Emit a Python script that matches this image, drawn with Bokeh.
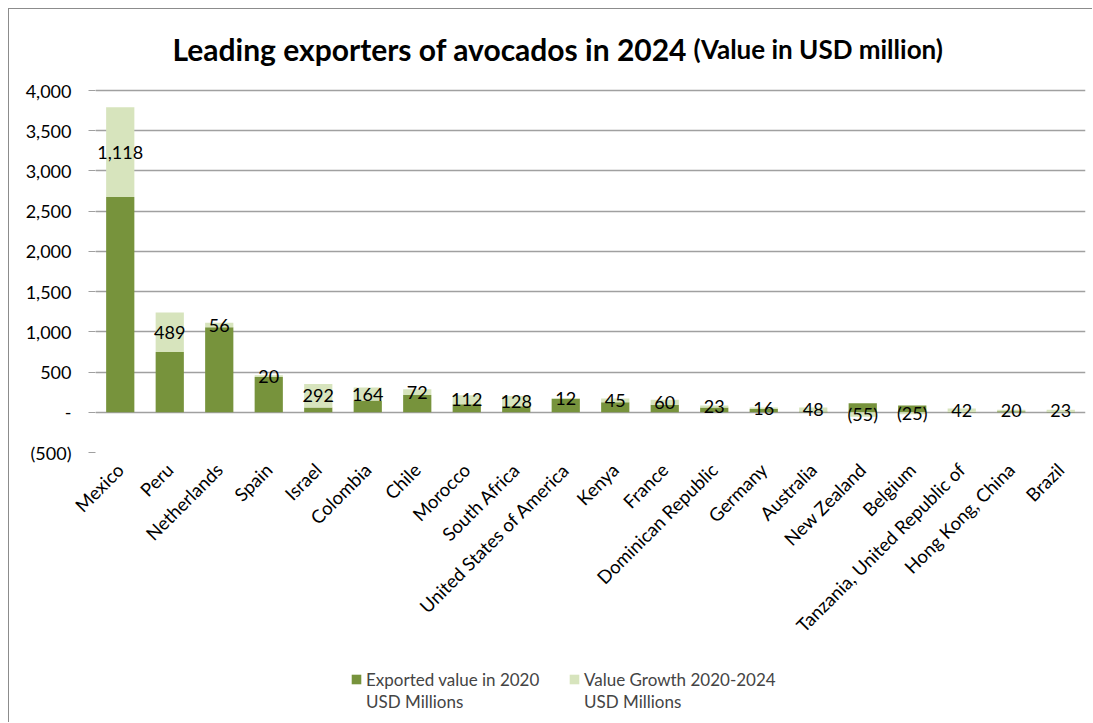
import numpy as np
from bokeh.plotting import figure
from bokeh.layouts import column
from bokeh.models import (ColumnDataSource, FixedTicker, CustomJSTickFormatter, Label,
                          Legend, LegendItem)
from bokeh.core.properties import value
from bokeh.embed import file_html
from bokeh.resources import INLINE
from math import pi

countries = ["Mexico", "Peru", "Netherlands", "Spain", "Israel", "Colombia", "Chile",
             "Morocco", "South Africa", "United States of America", "Kenya", "France",
             "Dominican Republic", "Germany", "Australia", "New Zealand", "Belgium",
             "Tanzania, United Republic of", "Hong Kong, China", "Brazil"]
value_2020 = [2675, 750, 1056, 440, 60, 145, 215, 100, 75, 165, 125, 95, 60, 42, 10,
              112, 85, 5, 12, 8]
growth_2020_2024 = [1118, 489, 56, 20, 292, 164, 72, 112, 128, 12, 45, 60, 23, 16, 48,
                    -55, -25, 42, 20, 23]
y_ticks = [-500, 0, 500, 1000, 1500, 2000, 2500, 3000, 3500, 4000]
legend_labels = ["Exported value in 2020", "Value Growth 2020-2024"]
legend_unit = "USD Millions"
title_main = "Leading exporters of avocados in 2024"
title_sub = "(Value in USD million)"

DARK = "#77933C"
LIGHT = "#D7E4BD"
GRID = "#A0A0A0"
BORDER = "#8C8C8C"
FONT = "Lato"

v = np.array(value_2020, dtype=float)
g = np.array(growth_2020_2024, dtype=float)
g_bottom = np.where(g >= 0, v, 0.0)
g_top = g_bottom + g
label_y = g_bottom + g / 2


def fmt(n):
    return "({:,})".format(abs(n)) if n < 0 else "{:,}".format(n)


src = ColumnDataSource(dict(
    country=countries, v2020=v, zero=np.zeros(len(v)),
    g_bottom=g_bottom, g_top=g_top, label_y=label_y,
    label=[fmt(x) for x in growth_2020_2024],
))

# 362 px for the -500..4000 axis plus 70 px of head room (inside the frame) for the title
AXIS_H, HEAD = 362, 70
Y_MIN, Y_AXIS_MAX = -500, 4000
y_end = Y_AXIS_MAX + HEAD * (Y_AXIS_MAX - Y_MIN) / AXIS_H

p = figure(x_range=countries, y_range=(Y_MIN, y_end), width=1084, height=651,
           output_backend="svg", toolbar_location=None,
           min_border_left=86, min_border_right=8, min_border_top=11,
           min_border_bottom=651 - 11 - AXIS_H - HEAD)
p.outline_line_color = None
p.background_fill_color = "white"
p.border_fill_color = "white"
p.styles = {"margin-left": "8px", "margin-top": "8px",
            "border-left": f"1px solid {BORDER}", "border-top": f"1px solid {BORDER}"}

p.vbar(x="country", top="v2020", bottom="zero", width=0.57, source=src,
       fill_color=DARK, line_color=None)
p.vbar(x="country", top="g_top", bottom="g_bottom", width=0.57, source=src,
       fill_color=LIGHT, line_color=None)

p.text(x="country", y="label_y", text="label", source=src,
       text_align="center", text_baseline="middle", text_font=value(FONT),
       text_font_size="18px", text_color="black")

# axes
p.yaxis.ticker = FixedTicker(ticks=y_ticks)
p.yaxis.formatter = CustomJSTickFormatter(code="""
    if (tick == 0) return "-";
    const s = Math.abs(tick).toLocaleString('en-US');
    return tick < 0 ? "(" + s + ")" : s;
""")
p.yaxis.axis_line_color = None
p.yaxis.major_tick_line_color = GRID
p.yaxis.major_tick_out = 7
p.yaxis.major_tick_in = 0
p.yaxis.minor_tick_line_color = None
p.yaxis.major_label_text_font = FONT
p.yaxis.major_label_text_font_size = "18px"
p.yaxis.major_label_text_color = "black"
p.yaxis.major_label_standoff = 17

p.xaxis.axis_line_color = None
p.xaxis.major_tick_line_color = None
p.xaxis.major_label_orientation = pi / 4
p.xaxis.major_label_text_font = FONT
p.xaxis.major_label_text_font_size = "18.5px"
p.xaxis.major_label_text_color = "black"
p.xaxis.major_label_standoff = 8

p.xgrid.grid_line_color = None
p.ygrid.grid_line_color = GRID
p.ygrid.grid_line_width = 1.5

# title (screen units measured from the frame's bottom-left)
p.add_layout(Label(x=77, y=404, x_units="screen", y_units="screen",
                   text=title_main, text_font=FONT,
                   text_font_style="bold", text_font_size="30px", text_color="black",
                   text_baseline="alphabetic"))
p.add_layout(Label(x=598, y=404, x_units="screen", y_units="screen",
                   text=title_sub, text_font=FONT,
                   text_font_style="bold", text_font_size="26px", text_color="black",
                   text_baseline="alphabetic"))

# legend strip (no axes, frame covers the whole strip)
lf = figure(width=1084, height=63, x_range=(0, 1), y_range=(0, 1),
            x_axis_type=None, y_axis_type=None,
            output_backend="svg", toolbar_location=None,
            min_border_left=0, min_border_right=0, min_border_top=0, min_border_bottom=0)
lf.grid.visible = False
lf.outline_line_color = None
lf.border_fill_color = "white"
lf.styles = {"margin-left": "8px", "border-left": f"1px solid {BORDER}"}
offscreen = ColumnDataSource(dict(x=[-10.0], top=[-10.0]))
r_dark = lf.vbar(x="x", top="top", width=0.1, source=offscreen, fill_color=DARK, line_color=None)
r_light = lf.vbar(x="x", top="top", width=0.1, source=offscreen, fill_color=LIGHT, line_color=None)
r_blank = lf.vbar(x="x", top="top", width=0.1, source=offscreen, fill_alpha=0, line_alpha=0)

legend = Legend(items=[
    LegendItem(label=legend_labels[0], renderers=[r_dark]),
    LegendItem(label=legend_labels[1], renderers=[r_light]),
    LegendItem(label=legend_unit, renderers=[r_blank]),
    LegendItem(label=legend_unit, renderers=[r_blank]),
], orientation="horizontal", ncols=2, location=(255, 10), border_line_color=None,
    background_fill_alpha=0, label_text_font=FONT, label_text_font_size="17px",
    glyph_width=12, glyph_height=12, spacing=0, label_standoff=4, label_width=202,
    label_height=22, padding=4, margin=0)
lf.add_layout(legend, "center")

layout = column(p, lf, spacing=0)
open("out.html", "w").write(file_html(layout, INLINE))
